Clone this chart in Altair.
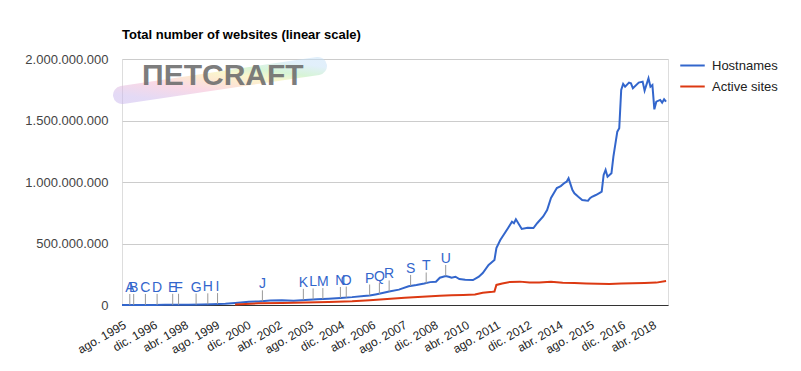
import altair as alt
import pandas as pd

# ---------------- data (values in millions) ----------------
host_dates = ["1995-08", "1996-01", "1996-06", "1997-01", "1997-06", "1998-01", "1998-06",
              "1999-01", "1999-06", "2000-01", "2000-06", "2000-09", "2001-01", "2001-06",
              "2001-12", "2002-06", "2002-12", "2003-06", "2003-12", "2004-06", "2004-12",
              "2005-06", "2005-12", "2006-03", "2006-06", "2006-09", "2007-01", "2007-06",
              "2007-11", "2008-03", "2008-07", "2008-10", "2009-01", "2009-03", "2009-06",
              "2009-08", "2009-09", "2009-11", "2010-01", "2010-04", "2010-08", "2010-11",
              "2011-01", "2011-04", "2011-07", "2011-08", "2011-10", "2012-02", "2012-04",
              "2012-05", "2012-06", "2012-09", "2012-12", "2013-03", "2013-05", "2013-08",
              "2013-10", "2013-12", "2014-03", "2014-05", "2014-07", "2014-08", "2014-09",
              "2014-11", "2014-12", "2015-02", "2015-04", "2015-06", "2015-07", "2015-08",
              "2015-09", "2015-11", "2016-01", "2016-02", "2016-03", "2016-04", "2016-05",
              "2016-07", "2016-08", "2016-10", "2016-11", "2016-12", "2017-01", "2017-02",
              "2017-04", "2017-05", "2017-06", "2017-09", "2017-11", "2017-12", "2018-02",
              "2018-03", "2018-04", "2018-05", "2018-06", "2018-08", "2018-09", "2018-10",
              "2018-11"]
host_vals = [0.02, 0.1, 0.25, 0.65, 1.2, 2.0, 2.6,
             4.1, 6.2, 10, 17, 21, 27, 29,
             36, 38, 35, 40, 46, 51, 57,
             64, 74, 77, 86, 96, 110, 125,
             152, 162, 175, 186, 189, 222, 236,
             228, 222, 230, 211, 206, 203, 230,
             260, 325, 366, 463, 528, 626, 677,
             665, 697, 618, 628, 626, 667, 720,
             772, 870, 951, 967, 994, 1002, 1030,
             935, 908, 880, 854, 849, 848, 868,
             880, 894, 912, 921, 1057, 1098, 1043,
             1071, 1206, 1409, 1437, 1748, 1797, 1775,
             1808, 1802, 1762, 1808, 1816, 1743, 1843,
             1775, 1789, 1591, 1653, 1667, 1645, 1672,
             1653]

active_dates = ["2000-06", "2001-06", "2002-06", "2003-06", "2004-06", "2005-06", "2006-03",
                "2006-12", "2007-09", "2008-06", "2009-03", "2009-09", "2010-03", "2010-09",
                "2011-01", "2011-06", "2011-07", "2011-08", "2011-11", "2012-03", "2012-08",
                "2013-01", "2013-06", "2013-12", "2014-06", "2014-12", "2015-06", "2015-12",
                "2016-06", "2016-12", "2017-06", "2017-12", "2018-06", "2018-11"]
active_vals = [5, 14, 17, 20, 24, 30, 38,
               48, 59, 68, 75, 80, 82, 85,
               100, 108, 110, 163, 175, 188, 190,
               182, 183, 188, 180, 178, 175, 172,
               171, 174, 176, 178, 182, 195]

note_letters = ["A", "B", "C", "D", "E", "F", "G", "H", "I", "J", "K",
                "L", "M", "N", "O", "P", "Q", "R", "S", "T", "U"]
note_dates = ["1995-12", "1996-02", "1996-08", "1997-02", "1997-10", "1998-01", "1998-10",
              "1999-04", "1999-09", "2001-08", "2003-05", "2003-10", "2004-03", "2004-12",
              "2005-03", "2006-03", "2006-08", "2007-01", "2007-12", "2008-08", "2009-06"]
note_vals = [0.1, 0.1, 0.3, 0.7, 1.5, 2, 3.5, 5.5, 7.5, 30, 42,
             45, 48, 57, 60, 77, 90, 110, 155, 175, 236]

x_tick_labels = ["ago. 1995", "dic. 1996", "abr. 1998", "ago. 1999", "dic. 2000",
                 "abr. 2002", "ago. 2003", "dic. 2004", "abr. 2006", "ago. 2007",
                 "dic. 2008", "abr. 2010", "ago. 2011", "dic. 2012", "abr. 2014",
                 "ago. 2015", "dic. 2016", "abr. 2018"]
y_tick_labels = ["0", "500.000.000", "1.000.000.000", "1.500.000.000", "2.000.000.000"]

series_names = ["Hostnames", "Active sites"]
series_colors = ["#3366cc", "#dc3912"]


def month_index(s):
    y, m = map(int, s.split("-"))
    return (y - 1995) * 12 + (m - 8)


host_df = pd.DataFrame({"m": [month_index(d) for d in host_dates], "v": host_vals,
                        "series": series_names[0]})
active_df = pd.DataFrame({"m": [month_index(d) for d in active_dates], "v": active_vals,
                          "series": series_names[1]})
note_df = pd.DataFrame({"m": [month_index(d) for d in note_dates], "v": note_vals,
                        "letter": note_letters})

FONT = "Liberation Sans, Arial, sans-serif"
x_vals = [16 * i for i in range(len(x_tick_labels))]
y_vals = [500 * i for i in range(len(y_tick_labels))]
x_expr = "[" + ",".join("'%s'" % t for t in x_tick_labels) + "][round(datum.value/16)]"
y_expr = "[" + ",".join("'%s'" % t for t in y_tick_labels) + "][round(datum.value/500)]"

x_enc = alt.X("m:Q", scale=alt.Scale(domain=[0, 280], nice=False, zero=False),
              axis=alt.Axis(values=x_vals, labelExpr=x_expr, title=None, grid=False,
                            ticks=False, domain=True, domainColor="#333333",
                            labelAngle=330, labelAlign="right", labelBaseline="top",
                            labelPadding=14, labelFontSize=12, labelColor="#222222",
                            labelFont=FONT, labelOverlap=False, labelBound=False))
y_enc = alt.Y("v:Q", scale=alt.Scale(domain=[0, 2000], nice=False),
              axis=alt.Axis(values=y_vals, labelExpr=y_expr, title=None, grid=True,
                            gridColor="#cccccc", ticks=False, domain=False,
                            labelPadding=14, labelFontSize=13, labelColor="#444444",
                            labelFont=FONT))
color_enc = alt.Color("series:N",
                      scale=alt.Scale(domain=series_names, range=series_colors),
                      legend=alt.Legend(title=None, orient="none", legendX=557, legendY=-7,
                                        symbolType="stroke", symbolSize=600,
                                        symbolStrokeWidth=2, labelFontSize=13,
                                        labelColor="#222222", labelFont=FONT,
                                        labelOffset=6, rowPadding=0))

one = alt.Data(values=[{"k": 0}])
grad = alt.Gradient(gradient="linear", x1=0, y1=1, x2=1, y2=0,
                    stops=[alt.GradientStop(color="#c8b5ec", offset=0),
                           alt.GradientStop(color="#f5b3cc", offset=0.3),
                           alt.GradientStop(color="#fad3a2", offset=0.5),
                           alt.GradientStop(color="#f4ee9c", offset=0.65),
                           alt.GradientStop(color="#aee9af", offset=0.8),
                           alt.GradientStop(color="#c4e0f7", offset=1)])
logo_brush = alt.Chart(one).mark_rule(stroke=grad, strokeWidth=18, strokeCap="round",
                                      opacity=0.5).encode(
    x=alt.value(0), y=alt.value(36), x2=alt.value(196), y2=alt.value(7))
logo_text = alt.Chart(one).mark_text(text="ΠETCRAFT", font=FONT, fontSize=30,
                                     fontWeight="bold", color="#6f6f6f", align="left",
                                     baseline="alphabetic", opacity=0.9).encode(
    x=alt.value(20), y=alt.value(26))

host_line = alt.Chart(host_df).mark_line(strokeWidth=2).encode(
    x=x_enc, y=y_enc, color=color_enc)
active_line = alt.Chart(active_df).mark_line(strokeWidth=2).encode(
    x=x_enc, y=y_enc, color=color_enc)
stems = alt.Chart(note_df).mark_rule(color="#999999", strokeWidth=1, y2Offset=-11).encode(
    x=x_enc, y=y_enc, y2="v:Q")
letters = alt.Chart(note_df).mark_text(font=FONT, fontSize=14, color="#3366cc",
                                       align="center", baseline="alphabetic", dy=-13).encode(
    x=x_enc, y=y_enc, text="letter:N")

chart = alt.layer(logo_brush, logo_text, host_line, active_line, stems, letters).properties(
    width=546, height=246,
    title=alt.TitleParams("Total number of websites (linear scale)", anchor="start",
                          frame="group", fontSize=13, fontWeight="bold", font=FONT,
                          color="#000000", baseline="bottom", offset=-3),
    autosize=alt.AutoSizeParams(type="none"),
    padding={"left": 114, "top": 51, "right": 125, "bottom": 58},
).configure_view(stroke=None).configure_axisX(labelOverlap=False).configure(background="#ffffff")

chart.save("out.html", embed_options={"renderer": "svg", "actions": False})
